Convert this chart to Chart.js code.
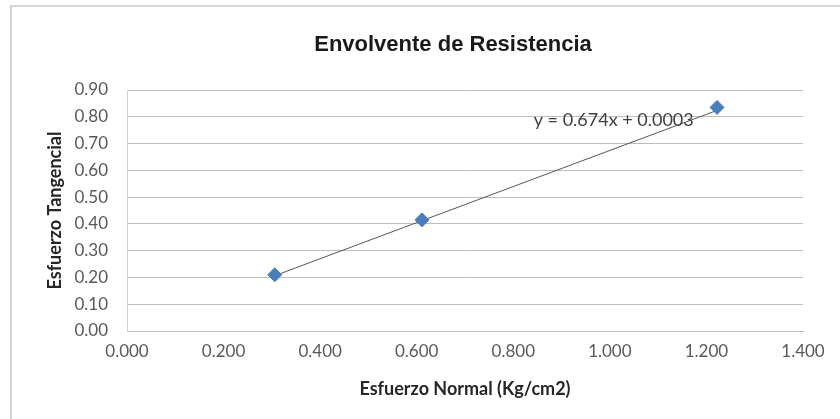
<!DOCTYPE html>
<html>
<head>
<meta charset="utf-8">
<script src="https://cdn.jsdelivr.net/npm/chart.js@4.4.1/dist/chart.umd.min.js"></script>
<style>
  body { margin: 0; background: #fff; }
</style>
</head>
<body>
<canvas id="envolventeChart" width="840" height="419"></canvas>
<script>
// Ensayo de corte directo
const esfuerzoNormal = [0.306, 0.611, 1.222];     // Kg/cm2
const esfuerzoTangencial = [0.21, 0.415, 0.835];
const pendiente = 0.674;
const intercepto = 0.0003;
const ecuacion = 'y = 0.674x + 0.0003';
const titulo = 'Envolvente de Resistencia';

const xTicks = [0, 0.2, 0.4, 0.6, 0.8, 1.0, 1.2, 1.4];
const yTicks = [0, 0.1, 0.2, 0.3, 0.4, 0.5, 0.6, 0.7, 0.8, 0.9];

const puntos = esfuerzoNormal.map((x, i) => ({ x: x, y: esfuerzoTangencial[i] }));

// linea de tendencia entre el primer y el ultimo punto
const xMin = Math.min(...esfuerzoNormal);
const xMax = Math.max(...esfuerzoNormal);
const tendencia = [
    { x: xMin, y: pendiente * xMin + intercepto },
    { x: xMax, y: pendiente * xMax + intercepto }
];

const tickFont = { family: 'Lato', size: 17 };
const tickColor = '#595959';
const gridColor = '#bdbdbd';

// marco exterior y titulo (centrado un poco a la izquierda, como en Excel)
const marcoPlugin = {
    id: 'marco',
    beforeDraw(chart) {
        const c = chart.ctx;
        const area = chart.chartArea;
        c.save();
        c.strokeStyle = '#d4d4d4';
        c.lineWidth = 2;
        c.strokeRect(11, 6, 840, 430);
        c.font = 'bold 22px "Liberation Sans"';
        c.fillStyle = '#1a1a1a';
        c.textAlign = 'center';
        c.textBaseline = 'middle';
        c.fillText(titulo, (area.left + area.right) / 2 - 12, 45);
        c.restore();
    }
};

// texto de la ecuacion de la tendencia
const ecuacionPlugin = {
    id: 'ecuacion',
    afterDatasetsDraw(chart) {
        const c = chart.ctx;
        const px = chart.scales.x.getPixelForValue(1.008);
        const py = chart.scales.y.getPixelForValue(0.788);
        c.save();
        c.font = '18px Lato';
        c.fillStyle = '#404040';
        c.textAlign = 'center';
        c.textBaseline = 'middle';
        c.fillText(ecuacion, px, py);
        c.restore();
    }
};

const ctx = document.getElementById('envolventeChart').getContext('2d');

new Chart(ctx, {
    type: 'scatter',
    data: {
        datasets: [{
            label: 'Tendencia',
            data: tendencia,
            showLine: true,
            borderColor: '#555555',
            borderWidth: 1,
            pointRadius: 0,
            order: 2
        }, {
            label: 'Ensayos',
            data: puntos,
            pointStyle: 'rectRot',
            pointRadius: 7,
            backgroundColor: '#4a7ebb',
            borderColor: '#4a7ebb',
            borderWidth: 1,
            order: 1
        }]
    },
    options: {
        responsive: false,
        animation: false,
        layout: {
            padding: { left: 11, right: 37, top: 90, bottom: 0 }
        },
        plugins: {
            legend: { display: false },
            tooltip: { enabled: false },
            title: { display: false }
        },
        scales: {
            x: {
                type: 'linear',
                min: 0,
                max: 1.4,
                afterBuildTicks: (scale) => { scale.ticks = xTicks.map(v => ({ value: v })); },
                afterFit: (scale) => { scale.height = 88; },
                ticks: {
                    font: tickFont,
                    color: tickColor,
                    padding: 10,
                    maxRotation: 0,
                    callback: (v) => Number(v).toFixed(3)
                },
                grid: { display: false, drawTicks: false },
                border: { display: true, color: gridColor, width: 1 },
                title: {
                    display: true,
                    text: 'Esfuerzo Normal (Kg/cm2)',
                    color: '#262626',
                    font: { family: 'Lato', size: 18, weight: 'bold' },
                    padding: { top: 0, bottom: 19 }
                }
            },
            y: {
                type: 'linear',
                min: 0,
                max: 0.9,
                afterBuildTicks: (scale) => { scale.ticks = yTicks.map(v => ({ value: v })); },
                afterFit: (scale) => { scale.width = 116; },
                ticks: {
                    font: tickFont,
                    color: tickColor,
                    padding: 19,
                    callback: (v) => Number(v).toFixed(2)
                },
                grid: { color: gridColor, lineWidth: 1, drawTicks: false },
                border: { display: true, color: '#d0d0d0', width: 1 },
                title: {
                    display: true,
                    text: 'Esfuerzo Tangencial',
                    color: '#262626',
                    font: { family: 'Lato', size: 18, weight: 'bold' },
                    padding: { top: 33, bottom: 0 }
                }
            }
        }
    },
    plugins: [marcoPlugin, ecuacionPlugin]
});
</script>
</body>
</html>
